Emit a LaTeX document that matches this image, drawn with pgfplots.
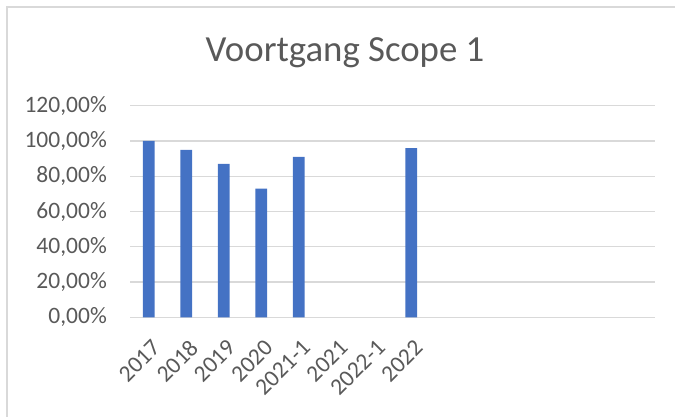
\documentclass[border=0pt]{standalone}
\usepackage{pgfplots}
\pgfplotsset{compat=1.18}
\usepackage{fontspec}
\setmainfont{Carlito}
\definecolor{barblue}{HTML}{4472C4}
\definecolor{txtgray}{HTML}{595959}
\definecolor{gridgray}{HTML}{D9D9D9}
\begin{document}
\begin{tikzpicture}[x=1pt,y=1pt]
\path[use as bounding box] (0,0) rectangle (675,417);
\draw[gridgray, line width=1.2pt] (7,0) -- (7,410) -- (675,410);
\node[txtgray, font=\fontsize{36.8}{40}\selectfont, inner sep=0pt] at (345,364) {Voortgang Scope 1};
\begin{axis}[
  at={(130pt,99.7pt)}, anchor=south west,
  scale only axis, width=525pt, height=211.6pt,
  xmin=-0.5, xmax=13.5, ymin=0, ymax=120,
  axis line style={draw=none},
  ymajorgrids, grid style={gridgray, line width=1.3pt},
  major tick length=0pt,
  xtick={0,1,2,3,4,5,6,7},
  xticklabels={2017,2018,2019,2020,2021-1,2021,2022-1,2022},
  ytick={0,20,40,60,80,100,120},
  yticklabels={{0,00\%},{20,00\%},{40,00\%},{60,00\%},{80,00\%},{100,00\%},{120,00\%}},
  tick label style={text=txtgray, inner sep=0pt},
  yticklabel style={font=\fontsize{23.5}{26}\selectfont, anchor=east, xshift=-23pt},
  xticklabel style={font=\fontsize{23.5}{26}\selectfont, xshift=2pt, yshift=-21pt, rotate=45, anchor=north east},
]
\addplot[ybar, fill=barblue, draw=none, bar width=11.7pt]
  coordinates {(0,100) (1,95) (2,87) (3,73) (4,91) (7,96)};
\end{axis}
\end{tikzpicture}
\end{document}
